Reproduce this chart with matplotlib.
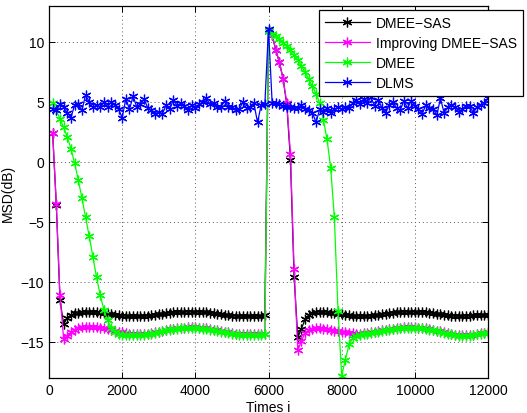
import numpy as np
import matplotlib
matplotlib.use("Agg")
import matplotlib.pyplot as plt

plt.rcParams['font.family'] = ['Liberation Sans', 'DejaVu Sans']

iterations = list(range(100, 12001, 100))

dmee_sas = [
    2.4, -3.6, -11.5, -13.5, -13.0, -12.75, -12.6, -12.55, -12.5, -12.5,
    -12.5, -12.5, -12.52, -12.55, -12.6, -12.65, -12.7, -12.75, -12.78, -12.8,
    -12.82, -12.85, -12.85, -12.85, -12.85, -12.83, -12.8, -12.77, -12.72, -12.68,
    -12.63, -12.6, -12.56, -12.53, -12.5, -12.48, -12.47, -12.46, -12.46, -12.47,
    -12.48, -12.5, -12.53, -12.57, -12.6, -12.65, -12.7, -12.73, -12.77, -12.8,
    -12.82, -12.84, -12.85, -12.85, -12.85, -12.84, -12.82, -12.8, -12.78, 10.9,
    10.6, 9.3, 8.3, 6.9, 4.8, 0.2, -9.6, -14.6, -13.9, -13.1,
    -12.75, -12.55, -12.5, -12.48, -12.48, -12.5, -12.55, -12.6, -12.65, -12.7,
    -12.75, -12.78, -12.8, -12.82, -12.83, -12.83, -12.82, -12.8, -12.77, -12.73,
    -12.68, -12.64, -12.6, -12.56, -12.53, -12.5, -12.48, -12.47, -12.46, -12.46,
    -12.47, -12.49, -12.52, -12.56, -12.6, -12.65, -12.7, -12.74, -12.78, -12.8,
    -12.82, -12.83, -12.83, -12.82, -12.8, -12.78, -12.77, -12.76, -12.75, -12.75,
]

improving_dmee_sas = [
    2.4, -3.5, -11.1, -14.75, -14.5, -14.2, -14.0, -13.85, -13.78, -13.75,
    -13.73, -13.73, -13.75, -13.8, -13.86, -13.93, -14.0, -14.08, -14.15, -14.2,
    -14.25, -14.3, -14.33, -14.35, -14.35, -14.33, -14.3, -14.25, -14.2, -14.13,
    -14.07, -14.0, -13.95, -13.9, -13.86, -13.83, -13.8, -13.78, -13.78, -13.78,
    -13.8, -13.82, -13.86, -13.9, -13.96, -14.02, -14.08, -14.14, -14.2, -14.25,
    -14.3, -14.33, -14.35, -14.37, -14.37, -14.36, -14.35, -14.33, -14.3, 10.9,
    10.6, 9.3, 8.3, 6.9, 4.9, 0.7, -8.9, -15.7, -14.9, -14.25,
    -14.0, -13.9, -13.87, -13.87, -13.9, -13.95, -14.0, -14.05, -14.1, -14.15,
    -14.2, -14.25, -14.28, -14.3, -14.3, -14.28, -14.25, -14.2, -14.15, -14.1,
    -14.04, -13.98, -13.93, -13.88, -13.84, -13.8, -13.78, -13.77, -13.77, -13.78,
    -13.8, -13.83, -13.87, -13.92, -13.98, -14.05, -14.12, -14.2, -14.27, -14.33,
    -14.38, -14.42, -14.44, -14.44, -14.42, -14.38, -14.33, -14.28, -14.24, -14.2,
]

dmee = [
    4.9, 4.3, 3.6, 2.9, 2.1, 1.1, -0.1, -1.5, -3.0, -4.6,
    -6.2, -7.9, -9.6, -11.1, -12.3, -13.2, -13.8, -14.15, -14.3, -14.38,
    -14.4, -14.4, -14.4, -14.4, -14.4, -14.38, -14.35, -14.3, -14.25, -14.18,
    -14.1, -14.04, -13.98, -13.93, -13.89, -13.86, -13.84, -13.83, -13.83, -13.84,
    -13.86, -13.88, -13.92, -13.96, -14.02, -14.08, -14.14, -14.2, -14.25, -14.3,
    -14.35, -14.38, -14.4, -14.42, -14.42, -14.41, -14.4, -14.38, -14.35, 10.9,
    10.7, 10.5, 10.25, 9.95, 9.65, 9.3, 8.9, 8.5, 8.0, 7.5,
    6.9, 6.3, 5.7, 4.9, 3.5, 1.9, -0.5, -4.6, -12.4, -17.8,
    -16.5, -15.2, -14.7, -14.5, -14.4, -14.35, -14.3, -14.25, -14.2, -14.15,
    -14.08, -14.02, -13.97, -13.92, -13.88, -13.84, -13.82, -13.81, -13.81, -13.82,
    -13.84, -13.87, -13.91, -13.96, -14.02, -14.09, -14.16, -14.24, -14.31, -14.37,
    -14.42, -14.46, -14.48, -14.48, -14.46, -14.42, -14.37, -14.32, -14.28, -14.24,
]

dlms = [
    4.4, 4.3, 4.8, 4.55, 4.1, 3.7, 4.75, 4.8, 4.3, 5.6,
    5.0, 4.55, 4.75, 4.55, 5.0, 4.6, 5.0, 4.75, 4.4, 3.7,
    5.25, 4.4, 5.5, 4.55, 4.8, 5.25, 4.5, 4.3, 4.0, 4.2,
    4.0, 4.75, 4.4, 5.2, 4.7, 4.9, 4.7, 4.3, 4.75, 4.5,
    4.8, 5.0, 5.3, 4.8, 4.9, 4.6, 4.55, 5.1, 4.6, 4.55,
    4.3, 4.4, 5.0, 4.5, 4.6, 4.9, 3.3, 4.75, 4.8, 11.1,
    4.9, 4.9, 4.8, 4.7, 4.6, 4.55, 4.5, 4.5, 4.75, 4.4,
    4.3, 4.1, 3.3, 4.4, 4.2, 4.5, 4.1, 4.4, 4.55, 4.4,
    4.6, 4.5, 4.9, 5.2, 4.8, 5.25, 4.9, 5.4, 4.7, 5.2,
    4.5, 4.1, 4.75, 5.0, 4.5, 4.3, 5.1, 4.5, 5.1, 4.7,
    4.4, 4.0, 4.75, 4.5, 4.45, 3.9, 5.3, 4.1, 4.55, 4.75,
    4.6, 4.2, 4.4, 4.7, 4.65, 4.1, 4.6, 4.75, 4.9, 5.3,
]

labels = ["DMEE\u2212SAS", "Improving DMEE\u2212SAS", "DMEE", "DLMS"]
colors = ["#000000", "#ff00ff", "#00ff00", "#0000ff"]
series = [dmee_sas, improving_dmee_sas, dmee, dlms]

fig = plt.figure(figsize=(5.27, 4.14), dpi=100)
ax = fig.add_axes([49/527, 1 - 379/414, (488 - 49)/527, (379 - 7)/414])

asterisk = (6, 2, 0)
for y, c, lab in zip(series, colors, labels):
    ax.plot(iterations, y, color=c, lw=0.9, marker=asterisk, markersize=7,
            markeredgewidth=0.9, markeredgecolor=c, label=lab)

ax.set_xlim(0, 12000)
ax.set_ylim(-18, 13)
ax.set_xticks(range(0, 12001, 2000))
ax.set_yticks([-15, -10, -5, 0, 5, 10])
ax.grid(True, linestyle=(0, (1, 3)), color='0.35', linewidth=0.7)
ax.tick_params(direction='in', top=True, right=True, length=4, width=0.7,
               labelsize=10)
for s in ax.spines.values():
    s.set_linewidth(0.9)

ax.set_xlabel("Times i", fontsize=10, labelpad=2)
ax.set_ylabel("MSD(dB)", fontsize=10, labelpad=4)

leg = ax.legend(loc='upper left', bbox_to_anchor=(319/527, 1 - 11/414),
                bbox_transform=fig.transFigure, fontsize=10, numpoints=1,
                handlelength=3.3, handletextpad=0.4, labelspacing=0.45,
                borderpad=0.4, borderaxespad=0, fancybox=False,
                framealpha=1, edgecolor='black')
leg.get_frame().set_linewidth(0.9)

fig.savefig("out.png", dpi=100)
